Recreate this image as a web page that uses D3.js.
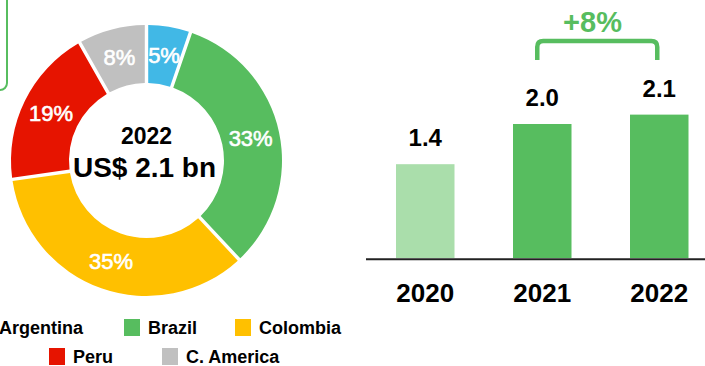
<!DOCTYPE html>
<html>
<head>
<meta charset="utf-8">
<script src="https://cdn.jsdelivr.net/npm/d3@7"></script>
<style>
  html, body { margin: 0; padding: 0; background: #fff; }
  svg { display: block; font-family: "Liberation Sans", Arial, sans-serif; }
</style>
</head>
<body>
<svg id="chart" width="705" height="366"></svg>
<script>
// ---- data ----
const regions = ["Argentina", "Brazil", "Colombia", "Peru", "C. America"];
const shares = [5, 33, 35, 19, 8];
const regionColors = ["#41b8e6", "#57bd5f", "#ffc000", "#e61400", "#c0c0c0"];
const centerYear = "2022";
const centerTotal = "US$ 2.1 bn";

const years = ["2020", "2021", "2022"];
const revenue = [1.4, 2.0, 2.14];
const revenueLabels = ["1.4", "2.0", "2.1"];
const barColors = ["#aadeab", "#57bd5f", "#57bd5f"];
const growthLabel = "+8%";

const svg = d3.select("#chart");
const green = "#57bd5f";

// ---- partial box at top-left ----
svg.append("rect")
  .attr("x", -100).attr("y", -12).attr("width", 107).attr("height", 102)
  .attr("rx", 7).attr("fill", "none").attr("stroke", green).attr("stroke-width", 2);

// ---- donut ----
const cx = 146.5, cy = 160.5, rOuter = 135.5, rInner = 77.5;
const pie = d3.pie().sort(null).value(d => d).padAngle(0.022);
const arcs = pie(shares);
const arc = d3.arc().innerRadius(rInner).outerRadius(rOuter);

const g = svg.append("g").attr("transform", `translate(${cx},${cy})`);
g.selectAll("path.slice").data(arcs).enter().append("path")
  .attr("class", "slice")
  .attr("d", arc)
  .attr("fill", (d, i) => regionColors[i]);

g.selectAll("text.pct").data(arcs).enter().append("text")
  .attr("class", "pct")
  .attr("transform", d => `translate(${arc.centroid(d)})`)
  .attr("text-anchor", "middle")
  .attr("dy", "0.36em")
  .attr("fill", "#fff")
  .attr("font-size", 22)
  .style("paint-order", "stroke")
  .attr("stroke", "#fff").attr("stroke-width", 0.6)
  .text(d => d.data + "%");

g.append("text").attr("text-anchor", "middle").attr("x", 0).attr("y", 144 - cy)
  .attr("font-size", 23).attr("font-weight", "bold").attr("fill", "#000")
  .text(centerYear);
g.append("text").attr("text-anchor", "middle").attr("x", -2).attr("y", 177 - cy)
  .attr("font-size", 28).attr("font-weight", "bold").attr("fill", "#000")
  .text(centerTotal);

// ---- legend ----
const legendPos = [
  { x: -25, y: 319 }, { x: 124, y: 319 }, { x: 235, y: 319 },
  { x: 49, y: 348 }, { x: 162, y: 348 }
];
const lg = svg.append("g");
regions.forEach((r, i) => {
  const p = legendPos[i];
  lg.append("rect").attr("x", p.x).attr("y", p.y).attr("width", 16).attr("height", 17)
    .attr("fill", regionColors[i]);
  lg.append("text").attr("x", p.x + 24).attr("y", p.y + 15)
    .attr("font-size", 18).attr("font-weight", "bold").attr("fill", "#000")
    .text(r);
});

// ---- bar chart ----
const x = d3.scaleBand().domain(years).range([337.5, 747]).padding(0.5);
const y = d3.scaleLinear().domain([0, 3]).range([258, 57]);

svg.selectAll("rect.bar").data(years).enter().append("rect")
  .attr("class", "bar")
  .attr("x", d => x(d))
  .attr("width", x.bandwidth())
  .attr("y", (d, i) => y(revenue[i]))
  .attr("height", (d, i) => y(0) - y(revenue[i]))
  .attr("fill", (d, i) => barColors[i]);

svg.append("line").attr("x1", 366).attr("x2", 705)
  .attr("y1", 259.3).attr("y2", 259.3)
  .attr("stroke", "#222").attr("stroke-width", 2);

svg.selectAll("text.val").data(years).enter().append("text")
  .attr("class", "val")
  .attr("x", d => x(d) + x.bandwidth() / 2)
  .attr("y", (d, i) => y(revenue[i]) - 18)
  .attr("text-anchor", "middle")
  .attr("font-size", 24).attr("font-weight", "bold").attr("fill", "#000")
  .text((d, i) => revenueLabels[i]);

svg.selectAll("text.year").data(years).enter().append("text")
  .attr("class", "year")
  .attr("x", d => x(d) + x.bandwidth() / 2)
  .attr("y", 302)
  .attr("text-anchor", "middle")
  .attr("font-size", 26).attr("font-weight", "bold").attr("fill", "#000")
  .text(d => d);

// growth bracket
const bx1 = x("2021") + x.bandwidth() / 2 - 5;
const bx2 = x("2022") + x.bandwidth() / 2 - 2;
const byTop = 41, byBot = 60, rr = 6;
svg.append("path")
  .attr("d", `M${bx1},${byBot} L${bx1},${byTop + rr} Q${bx1},${byTop} ${bx1 + rr},${byTop} L${bx2 - rr},${byTop} Q${bx2},${byTop} ${bx2},${byTop + rr} L${bx2},${byBot}`)
  .attr("fill", "none").attr("stroke", green).attr("stroke-width", 4.5);
svg.append("text").attr("x", 592.5).attr("y", 31.5)
  .attr("text-anchor", "middle")
  .attr("font-size", 29).attr("font-weight", "bold").attr("fill", green)
  .text(growthLabel);
</script>
</body>
</html>
